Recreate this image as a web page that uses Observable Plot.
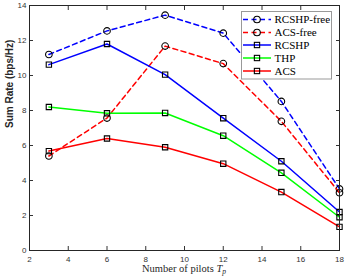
<!DOCTYPE html>
<html>
<head>
<meta charset="utf-8">
<script src="https://cdn.jsdelivr.net/npm/d3@7"></script>
<script src="https://cdn.jsdelivr.net/npm/@observablehq/plot@0.6"></script>
<style>
  html, body { margin: 0; padding: 0; background: #fff; }
</style>
</head>
<body>
<div id="chart"></div>
<script>
// ---- data ----
const pilots = [3, 6, 9, 12, 15, 18];
const seriesNames = ["RCSHP-free", "ACS-free", "RCSHP", "THP", "ACS"];
const rcshpFree = [11.2, 12.55, 13.45, 12.42, 8.52, 3.52];
const acsFree   = [5.4, 7.57, 11.68, 10.68, 7.38, 3.3];
const rcshp     = [10.62, 11.8, 10.05, 7.56, 5.1, 2.2];
const thp       = [8.2, 7.84, 7.86, 6.56, 4.44, 1.9];
const acs       = [5.68, 6.4, 5.9, 4.96, 3.34, 1.35];
const xTicks = [2, 4, 6, 8, 10, 12, 14, 16, 18];
const yTicks = [0, 2, 4, 6, 8, 10, 12, 14];

const seriesValues = [rcshpFree, acsFree, rcshp, thp, acs];
const seriesColors = ["#0000ff", "#ff0000", "#0000ff", "#00ff00", "#ff0000"];
const seriesDashed = [true, true, false, false, false];
const seriesSymbol = ["circle", "circle", "square", "square", "square"];

const rows = [];
seriesNames.forEach((name, i) => {
  pilots.forEach((p, j) => rows.push({series: name, idx: i, x: p, y: seriesValues[i][j]}));
});

const axisColor = "#262626";
const marks = [];
seriesNames.forEach((name, i) => {
  const data = rows.filter(d => d.idx === i);
  marks.push(Plot.line(data, {
    x: "x", y: "y", stroke: seriesColors[i], strokeWidth: 1.5,
    strokeDasharray: seriesDashed[i] ? "5,3.5" : null
  }));
  marks.push(Plot.dot(data, {
    x: "x", y: "y", symbol: () => seriesSymbol[i],
    r: seriesSymbol[i] === "circle" ? 3.3 : 3.0,
    stroke: "#000", fill: "none", strokeWidth: 1.1
  }));
});

const plot = Plot.plot({
  width: 346,
  height: 280,
  marginLeft: 29,
  marginRight: 7,
  marginTop: 5,
  marginBottom: 30,
  style: {fontFamily: "'Liberation Sans', Arial, sans-serif", fontSize: "8px", background: "#fff", overflow: "visible"},
  x: {domain: [2, 18]},
  y: {domain: [0, 14]},
  marks: [
    Plot.axisX({anchor: "bottom", ticks: xTicks, tickSize: -4, tickPadding: 10, label: null, color: "#333"}),
    Plot.axisX({anchor: "top", ticks: xTicks, tickSize: -4, tickFormat: () => "", label: null, color: "#333"}),
    Plot.axisY({anchor: "left", ticks: yTicks, tickSize: -4, tickPadding: 7, label: null, color: "#333"}),
    Plot.axisY({anchor: "right", ticks: yTicks, tickSize: -4, tickFormat: () => "", label: null, color: "#333"}),
    ...marks,
    Plot.frame({stroke: axisColor, strokeWidth: 1}),
    Plot.text([0], {frameAnchor: "left", text: () => "Sum Rate (bps/Hz)", rotate: -90, dx: -20,
      fontSize: 10, fontWeight: "bold", fill: "#262626"})
  ]
});

document.getElementById("chart").appendChild(plot);

// ---- x label (serif, with italic subscript) and legend ----
const svg = d3.select(plot);
const xl = svg.append("text")
  .attr("x", 184).attr("y", 272)
  .attr("text-anchor", "middle")
  .attr("font-family", "'Liberation Serif', 'Times New Roman', serif")
  .attr("font-size", 10.5)
  .attr("fill", "#262626");
xl.append("tspan").text("Number of pilots ");
xl.append("tspan").attr("font-style", "italic").text("T");
xl.append("tspan").attr("font-style", "italic").attr("font-size", 7.5).attr("dy", 2).text("p");

const lg = svg.append("g").attr("text-anchor", "start");
lg.append("rect").attr("x", 241.5).attr("y", 11.5).attr("width", 90).attr("height", 67.5)
  .attr("fill", "#fff").attr("stroke", "#999").attr("stroke-width", 1);
const rowY = [19.5, 32.5, 45, 58, 71];
seriesNames.forEach((name, i) => {
  const y = rowY[i];
  lg.append("line").attr("x1", 243).attr("x2", 271).attr("y1", y).attr("y2", y)
    .attr("stroke", seriesColors[i]).attr("stroke-width", 1.5)
    .attr("stroke-dasharray", seriesDashed[i] ? "5,3.5" : null);
  if (seriesSymbol[i] === "circle") {
    lg.append("circle").attr("cx", 257).attr("cy", y).attr("r", 3.3)
      .attr("fill", "none").attr("stroke", "#000").attr("stroke-width", 1.1);
  } else {
    lg.append("rect").attr("x", 257 - 2.65).attr("y", y - 2.65).attr("width", 5.3).attr("height", 5.3)
      .attr("fill", "none").attr("stroke", "#000").attr("stroke-width", 1.1);
  }
  lg.append("text").attr("x", 274.5).attr("y", y).attr("dy", "0.35em")
    .attr("text-anchor", "start")
    .attr("font-family", "'Liberation Serif', 'Times New Roman', serif")
    .attr("font-size", 11).attr("fill", "#000").text(name);
});
</script>
</body>
</html>
